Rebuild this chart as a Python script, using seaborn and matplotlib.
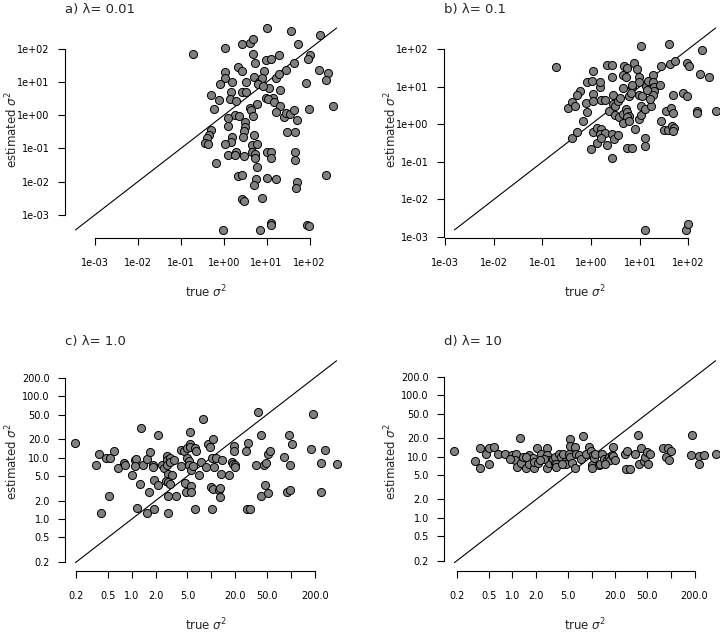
import matplotlib
matplotlib.use("Agg")
import matplotlib.pyplot as plt
from matplotlib.ticker import NullLocator
import numpy as np
import pandas as pd
import seaborn as sns

sns.set_style("white")
plt.rcParams['font.family'] = ['DejaVu Sans']

# panel a) lambda = 0.01
true_a = [10.2, 38, 180, 0.19, 1.07, 2.7, 4.0, 4.8, 54, 100, 93, 4.8, 9.6, 13, 19, 5.4, 43, 28,
          2.1, 2.7, 8.9, 1.07, 1.1, 0.81, 1.6, 3.3, 5.2, 6.8, 7.8, 17, 19, 6.3, 11.5, 20, 82, 170,
          270, 240, 1.5, 2.7, 3.3, 0.51, 0.77, 1.4, 1.9, 14, 9.8, 10.7, 0.59, 6.0, 4.0, 4.3, 4.7,
          14.6, 20, 16.5, 26, 29, 35, 43, 50, 95, 355, 1.8, 2.3, 1.26, 1.23, 3.2, 3.1, 3.0, 0.5,
          0.46, 0.41, 0.36, 0.42, 1.6, 1.5, 1.1, 2.8, 5.1, 4.5, 5.9, 1.29, 1.9, 1.8, 2.9, 4.6, 5.4,
          5.4, 5.9, 0.66, 10, 13, 12.6, 47, 45, 45, 30, 2.1, 2.6, 5.6, 5.2, 10, 17, 50, 48, 240,
          2.6, 2.9, 8.0, 0.98, 6.9, 12.6, 13, 89, 98, 8.2]
est_a = [427, 340, 260, 72, 107, 138, 151, 205, 138, 68, 50, 72, 48, 50, 65, 38, 38, 24,
         28, 21, 21, 20, 13, 8.7, 10, 10, 14, 10, 13, 13, 18, 8.5, 6.7, 6.0, 9.6, 23,
         19, 11.5, 5.2, 4.9, 5.2, 4.2, 2.8, 3.1, 2.7, 3.3, 3.4, 3.0, 1.5, 2.2, 1.7, 1.4, 0.97,
         2.5, 1.9, 1.3, 0.87, 1.2, 1.1, 1.4, 0.71, 1.5, 1.9, 1.05, 0.93, 0.83, 0.47, 0.62, 0.45,
         0.33, 0.35, 0.26, 0.21, 0.15, 0.14, 0.22, 0.155, 0.14, 0.22, 0.26, 0.126, 0.14, 0.063,
         0.079, 0.063, 0.059, 0.079, 0.066, 0.05, 0.027, 0.037, 0.078, 0.079, 0.05, 0.078, 0.044,
         0.32, 0.31, 0.015, 0.0155, 0.0117, 0.0078, 0.0129, 0.012, 0.01, 0.0065, 0.0155,
         0.003, 0.0026, 0.0033, 0.00035, 0.00035, 0.00057, 0.00048, 0.00048, 0.00045, 7.6]

# panel b) lambda = 0.1
true_b = [0.19, 10.5, 40, 188, 1.1, 2.1, 2.7, 2.7, 4.6, 4.8, 5.4, 7.8, 8.9, 9.5, 5.2, 18.5, 28,
          42, 54, 95, 105, 177, 263, 0.81, 1.05, 1.5, 1.55, 0.59, 0.52, 1.1, 2.8, 4.5, 7.1, 9.5,
          13.5, 14.5, 19, 19.6, 19.6, 19, 26, 79, 95, 49, 5.9, 9.8, 11.2, 6.5, 0.34, 0.4, 0.46,
          0.8, 0.81, 0.68, 1.1, 1.6, 1.9, 2.3, 2.8, 3.1, 3.5, 4.0, 3.1, 3.8, 4.6, 5.3, 5.6, 6.1,
          5.4, 4.5, 6.1, 9.5, 10.5, 10.5, 13, 17, 34, 45, 49, 27, 31, 39, 47, 51, 48, 148, 152,
          363, 0.41, 0.52, 1.1, 1.0, 1.3, 1.3, 1.6, 1.55, 1.9, 2.1, 1.6, 2.7, 2.9, 3.6, 2.7, 5.4,
          7.1, 8.1, 13, 13, 13, 89, 98, 6.9, 14, 16]
est_b = [33, 122, 135, 92, 26, 38, 38, 18, 20, 35, 31, 43, 29, 18, 18, 21, 35,
         41, 47, 43, 35, 22, 18, 13, 14, 9.8, 13, 7.6, 6.2, 6.4, 6.2, 9.3, 9.8, 13,
         10.2, 14, 13, 9.6, 7.6, 6.0, 11, 6.6, 5.6, 6.2, 5.6, 5.9, 5.8, 6.8, 2.7, 3.9, 3.0,
         3.7, 2.1, 1.26, 4.1, 4.5, 4.3, 2.3, 3.5, 3.0, 4.1, 4.9, 1.8, 1.55, 1.9, 2.5, 2.1, 1.7,
         1.55, 1.1, 1.2, 1.4, 1.8, 3.0, 2.5, 3.0, 2.3, 2.7, 2.0, 1.26, 0.72, 0.69, 0.89, 0.81,
         0.66, 2.3, 2.0, 2.2, 0.44, 0.63, 0.62, 0.22, 0.31, 0.81, 0.73, 0.54, 0.59, 0.29, 0.42,
         0.54, 0.41, 0.52, 0.13, 0.24, 0.23, 0.73, 0.44, 0.26, 0.00155, 0.00155, 0.0022, 11.2,
         8.3, 4.6]

# panel c) lambda = 1.0
true_c = [0.195, 0.35, 0.39, 0.47, 0.53, 0.6, 0.41, 0.52, 0.67, 0.79, 0.83, 1.0, 1.09, 1.14, 1.08,
          1.28, 1.16, 1.29, 1.38, 1.53, 1.55, 1.64, 1.69, 1.83, 1.85, 1.92, 1.9, 2.13, 2.11, 2.38,
          2.52, 2.75, 2.77, 2.8, 2.83, 2.72, 2.88, 2.83, 2.83, 3.03, 3.03, 3.05, 3.24, 3.4, 3.57,
          4.1, 4.1, 4.5, 4.6, 4.8, 4.9, 5.0, 5.2, 5.3, 5.4, 5.35, 5.35, 5.6, 5.5, 5.5, 5.8, 6.15,
          6.4, 6.3, 7.0, 7.5, 7.8, 8.5, 9.0, 9.5, 10.1, 10.0, 10.4, 10.4, 10.1, 10.8, 11.6, 12.6,
          13, 13, 13.4, 13.6, 16.5, 18, 18.9, 19.1, 19.3, 19.7, 20, 26.9, 28, 28.5, 31, 36, 38.8,
          41.6, 42.4, 45.8, 47, 49, 51, 52, 54, 82, 89.5, 94, 98, 99, 104, 180, 190, 238, 243,
          268, 376]
est_c = [17.2, 7.5, 11.5, 10, 10, 12.7, 1.23, 2.4, 6.8, 8.2, 7.7, 5.2, 9.1, 9.5, 7.3,
         3.7, 1.5, 30, 7.7, 9.3, 1.23, 2.8, 12.3, 7.7, 7.0, 1.43, 4.3, 23, 3.6, 7.7,
         6.8, 10.8, 9.2, 7.5, 5.5, 4.1, 4.0, 2.35, 1.23, 9.9, 8.5, 3.65, 5.2, 9.1, 2.35,
         7.3, 13.2, 12.6, 3.9, 2.8, 9.9, 14.5, 8.8, 7.5, 26, 16.8, 14.8, 6.2, 3.5, 2.8, 7.2, 14.1,
         12.7, 1.45, 5.2, 8.4, 42, 7.1, 16.8, 14.8, 1.46, 3.35, 3.06, 19.8, 9.9, 7.1, 9.8, 3.0,
         3.2, 2.3, 5.4, 9.1, 5.3, 8.5, 8.0, 15.4, 12.7, 7.7, 7.1, 12.7, 1.43, 17.4, 1.43, 7.7, 55,
         2.35, 23, 7.5, 3.6, 8.1, 11.5, 2.67, 12.7, 10.3, 2.8, 23, 7.7, 3.0, 16.8, 13.9, 52, 2.8, 8.1,
         13.2, 7.9]

# panel d) lambda = 10
true_d = [0.185, 0.34, 0.39, 0.39, 0.47, 0.51, 0.51, 0.59, 0.66, 0.8, 0.99, 1.11, 1.08, 1.13, 1.26,
          1.29, 1.35, 1.49, 1.64, 1.69, 1.64, 1.83, 1.88, 1.88, 2.1, 2.05, 2.33, 2.77, 2.75, 2.8,
          2.75, 2.9, 3.24, 3.5, 3.5, 3.55, 3.9, 4.1, 4.4, 4.6, 4.8, 5.2, 5.3, 5.3, 5.4, 5.6, 6.1,
          6.15, 6.3, 6.9, 7.3, 7.8, 8.6, 9.2, 9.7, 10, 10.1, 10.4, 10.7, 11.2, 12.4, 12.8, 13.5,
          14.2, 15.6, 16.5, 17.2, 18.2, 18.6, 18.9, 19.5, 26.4, 27.4, 27.9, 30.8, 35, 38.8, 42.4,
          40, 45.8, 48, 50, 51, 54, 81, 86, 92, 95, 101, 178, 185, 231, 231, 262, 369,
          2.54, 3.55, 2.26, 4.2, 0.94, 14.6, 1.49]
est_d = [12.4, 8.5, 14.1, 6.4, 11, 14.1, 7.7, 14.5, 11, 11, 10.6, 11, 8.8, 6.7, 19.8,
         7.9, 9.9, 6.4, 10.6, 9.3, 7.5, 9.5, 6.4, 8.1, 7.9, 13.6, 11, 13.9, 10.6, 8.8,
         6.4, 7.9, 9.0, 8.0, 9.9, 7.5, 11, 9.9, 11, 8.2, 7.5, 11, 19.3, 14.8, 9.9, 7.9, 14.5,
         6.4, 11, 10.6, 9.3, 21.6, 11.2, 14.5, 12.3, 7.3, 6.4, 10.6, 9.5, 11, 7.3, 7.7, 11,
         9.3, 8.8, 9.9, 8.8, 10.6, 14.5, 10.4, 8.8, 11.2, 6.2, 12.4, 6.2, 11, 23, 13.6,
         7.7, 8.5, 9.9, 11.7, 7.5, 11, 13.9, 9.9, 13.6, 8.8, 12.3, 10.8, 23, 10.4, 7.7, 10.6, 11.2,
         9.3, 6.8, 8.8, 7.5, 9.3, 7.7, 9.9]

titles = ["a) λ= 0.01", "b) λ= 0.1", "c) λ= 1.0", "d) λ= 10"]

exp_ticks = [1e-3, 1e-2, 1e-1, 1e0, 1e1, 1e2]
exp_labels = ["1e-03", "1e-02", "1e-01", "1e+00", "1e+01", "1e+02"]
lin_ticks = [0.2, 0.5, 1, 2, 5, 10, 20, 50, 100, 200]
lin_ylabels = ["0.2", "0.5", "1.0", "2.0", "5.0", "10.0", "20.0", "50.0", "100.0", "200.0"]
lin_xlabels = ["0.2", "0.5", "1.0", "2.0", "5.0", "", "20.0", "50.0", "", "200.0"]

W, H = 720, 634
fig = plt.figure(figsize=(7.2, 6.34), dpi=100)
aw, ah = 282, 218
boxes = [(65, 20), (444, 20), (65, 352.7), (444, 352.7)]   # left, top in pixels

panels = [
    (true_a, est_a, exp_ticks, exp_labels, exp_labels),
    (true_b, est_b, exp_ticks, exp_labels, exp_labels),
    (true_c, est_c, lin_ticks, lin_xlabels, lin_ylabels),
    (true_d, est_d, lin_ticks, lin_xlabels, lin_ylabels),
]

for (left, top), title, (x, y, ticks, xlab, ylab) in zip(boxes, titles, panels):
    ax = fig.add_axes([left / W, 1 - (top + ah) / H, aw / W, ah / H])
    df = pd.DataFrame({"true": x, "est": y})
    sns.scatterplot(data=df, x="true", y="est", ax=ax, s=34, color="#808080",
                    edgecolor="black", linewidth=0.7, zorder=3, clip_on=True)
    ax.set_xscale("log")
    ax.set_yscale("log")
    # y = x line over the combined range of both variables
    lo = min(df["true"].min(), df["est"].min())
    hi = max(df["true"].max(), df["est"].max())
    ax.plot([lo, hi], [lo, hi], color="black", lw=0.8, zorder=2)
    llo, lhi = np.log10(lo), np.log10(hi)
    pad = 0.04 * (lhi - llo)
    ax.set_xlim(10 ** (llo - pad), 10 ** (lhi + pad))
    ax.set_ylim(10 ** (llo - pad), 10 ** (lhi + pad))

    ax.set_xticks(ticks)
    ax.set_xticklabels(xlab)
    ax.set_yticks(ticks)
    ax.set_yticklabels(ylab)
    ax.xaxis.set_minor_locator(NullLocator())
    ax.yaxis.set_minor_locator(NullLocator())

    for s in ["top", "right"]:
        ax.spines[s].set_visible(False)
    for s in ["left", "bottom"]:
        ax.spines[s].set_linewidth(0.8)
        ax.spines[s].set_color("black")
        ax.spines[s].set_bounds(ticks[0], ticks[-1])
    ax.tick_params(axis="x", direction="out", length=5.2, width=0.8, labelsize=7, pad=9.5,
                   bottom=True, colors="black")
    ax.tick_params(axis="y", direction="out", length=5.2, width=0.8, labelsize=7, pad=5.8,
                   left=True, colors="black")
    ax.grid(False)

    ax.set_xlabel("true $\\sigma^2$", fontsize=8.5, va="center")
    ax.xaxis.set_label_coords(0.5, -54 / ah)
    ax.set_ylabel("estimated $\\sigma^2$", fontsize=8.5, va="center")
    ax.yaxis.set_label_coords(-53 / aw, 0.5)
    ax.text(0.0, 1 + 11 / ah, title, transform=ax.transAxes, ha="left", va="center",
            fontsize=9.5)

fig.savefig("out.png", dpi=100)
